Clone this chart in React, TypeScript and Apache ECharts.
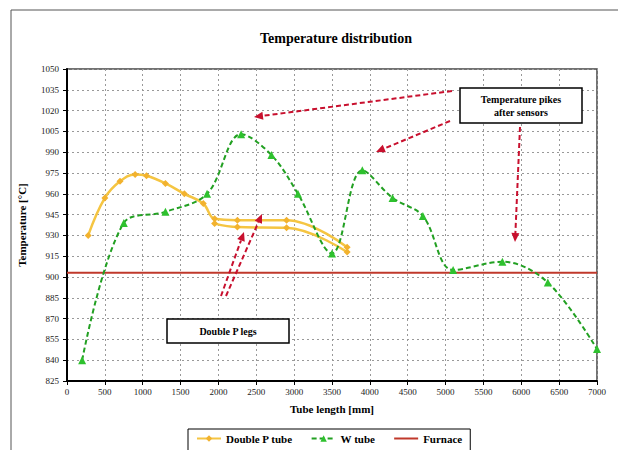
import React, { useEffect, useRef } from "react";
import * as echarts from "echarts";

// ---- data ----
const dpX = [280, 500, 700, 900, 1050, 1300, 1550, 1800, 1950, 2250, 2900, 3700];
const dpY = [930, 957, 969, 974, 973, 967.5, 960, 953, 942, 941, 941, 921.5];
const dpLegX = [1950, 2250, 2900, 3700];
const dpLegY = [938.5, 936, 935.5, 918];
const wX = [200, 750, 1300, 1850, 2300, 2700, 3050, 3500, 3900, 4300, 4700, 5100, 5750, 6350, 7000];
const wY = [840, 939, 947, 960, 1003, 988, 960, 917, 977, 957, 944, 905, 911, 896, 848];
const furnaceX = [0, 7000];
const furnaceY = [903, 903];
const seriesNames = ["Double P tube", "W tube", "Furnace"];
const xTicks = { min: 0, max: 7000, step: 500 };
const yTicks = { min: 825, max: 1050, step: 15 };

const zip = (xs: number[], ys: number[]) => xs.map((x, i) => [x, ys[i]]);

const SERIF = "'Liberation Serif', 'DejaVu Serif', serif";
const ARROW = "#C8102E";

function arrow(x1: number, y1: number, x2: number, y2: number) {
  const ang = Math.atan2(y2 - y1, x2 - x1);
  const L = 9, W = 4;
  const bx = x2 - L * Math.cos(ang), by = y2 - L * Math.sin(ang);
  const px = -Math.sin(ang) * W, py = Math.cos(ang) * W;
  return [
    {
      type: "line",
      shape: { x1, y1, x2: bx, y2: by },
      style: { stroke: ARROW, lineWidth: 2, lineDash: [5, 3] },
      z: 50,
    },
    {
      type: "polygon",
      shape: { points: [[x2, y2], [bx + px, by + py], [bx - px, by - py]] },
      style: { fill: ARROW },
      z: 50,
    },
  ];
}

export default function App() {
  const ref = useRef<HTMLDivElement>(null);
  useEffect(() => {
    document.body.style.margin = "0";
    const chart = echarts.init(ref.current!, null, { renderer: "svg" });
    chart.setOption({
      animation: false,
      backgroundColor: "#fff",
      title: {
        text: "Temperature distribution",
        left: 331,
        textAlign: "center",
        top: 26,
        textStyle: { fontFamily: SERIF, fontSize: 14, fontWeight: "bold", color: "#000" },
      },
      grid: {
        left: 67,
        right: 21,
        top: 69,
        bottom: 69,
        show: true,
        borderColor: "#444",
        borderWidth: 1.5,
        backgroundColor: "#fff",
      },
      legend: {
        data: [
          { name: seriesNames[0] },
          { name: seriesNames[1] },
          { name: seriesNames[2], itemStyle: { opacity: 0 } },
        ],
        left: 188,
        top: 429,
        itemWidth: 24,
        itemHeight: 8,
        itemGap: 18,
        borderColor: "#000",
        borderWidth: 1,
        padding: [4, 8, 14, 8],
        textStyle: { fontFamily: SERIF, fontSize: 11, fontWeight: "bold", color: "#000" },
      },
      xAxis: {
        type: "value",
        min: xTicks.min,
        max: xTicks.max,
        interval: xTicks.step,
        name: "Tube length [mm]",
        nameLocation: "middle",
        nameGap: 22,
        nameTextStyle: { fontFamily: SERIF, fontSize: 11, fontWeight: "bold", color: "#000" },
        axisLine: { lineStyle: { color: "#000", width: 2 } },
        axisTick: { show: true, length: 4, lineStyle: { color: "#000" } },
        axisLabel: { fontFamily: SERIF, fontSize: 9, color: "#222", margin: 6, formatter: (v: number) => String(v) },
        splitLine: { show: true, lineStyle: { color: "#999", type: [2, 3], width: 1 } },
      },
      yAxis: {
        type: "value",
        min: yTicks.min,
        max: yTicks.max,
        interval: yTicks.step,
        name: "Temperature [°C]",
        nameLocation: "middle",
        nameGap: 40,
        nameTextStyle: { fontFamily: SERIF, fontSize: 11, fontWeight: "bold", color: "#000" },
        axisLine: { show: true, lineStyle: { color: "#000", width: 2 } },
        axisTick: { show: true, length: 4, lineStyle: { color: "#000" } },
        axisLabel: { fontFamily: SERIF, fontSize: 9, color: "#222", margin: 8, formatter: (v: number) => String(v) },
        splitLine: { show: true, lineStyle: { color: "#999", type: [2, 3], width: 1 } },
      },
      series: [
        {
          name: seriesNames[0],
          type: "line",
          data: zip(dpX, dpY),
          smooth: 0.4,
          symbol: "diamond",
          symbolSize: 7,
          itemStyle: { color: "#F2B22E" },
          lineStyle: { color: "#F5C542", width: 2.5 },
          z: 3,
        },
        {
          name: seriesNames[0],
          type: "line",
          data: zip(dpLegX, dpLegY),
          smooth: 0.4,
          symbol: "diamond",
          symbolSize: 7,
          itemStyle: { color: "#F2B22E" },
          lineStyle: { color: "#F5C542", width: 2.5 },
          z: 3,
        },
        {
          name: seriesNames[1],
          type: "line",
          data: zip(wX, wY),
          smooth: 0.35,
          symbol: "triangle",
          symbolSize: 8,
          itemStyle: { color: "#2EC12E" },
          lineStyle: { color: "#22A022", width: 2, type: [5, 3] },
          z: 4,
        },
        {
          name: seriesNames[2],
          type: "line",
          data: zip(furnaceX, furnaceY),
          symbol: "none",
          itemStyle: { color: "#C0392B" },
          lineStyle: { color: "#C0392B", width: 2 },
          z: 2,
        },
      ],
      graphic: [
        {
          type: "rect",
          shape: { x: 11, y: 10, width: 640, height: 500 },
          style: { fill: "none", stroke: "#555", lineWidth: 1 },
          silent: true,
          z: -1,
        },
        ...arrow(452, 91, 254, 117),
        ...arrow(450, 121, 376, 152),
        ...arrow(520, 127, 515, 242),
        ...arrow(221, 296, 244, 232),
        ...arrow(226, 296, 262, 214),
        {
          type: "rect",
          shape: { x: 460, y: 88, width: 122, height: 35 },
          style: { fill: "#fff", stroke: "#000", lineWidth: 1.5 },
          z: 60,
        },
        {
          type: "text",
          x: 521,
          y: 105.5,
          style: {
            text: "Temperature pikes\nafter sensors",
            align: "center",
            verticalAlign: "middle",
            font: `bold 10px ${SERIF}`,
            lineHeight: 13,
            fill: "#000",
          },
          z: 61,
        },
        {
          type: "rect",
          shape: { x: 167, y: 319, width: 122, height: 24 },
          style: { fill: "#fff", stroke: "#000", lineWidth: 1.5 },
          z: 60,
        },
        {
          type: "text",
          x: 228,
          y: 331,
          style: {
            text: "Double P legs",
            align: "center",
            verticalAlign: "middle",
            font: `bold 10px ${SERIF}`,
            fill: "#000",
          },
          z: 61,
        },
      ],
    });
    return () => chart.dispose();
  }, []);
  return <div ref={ref} style={{ width: 618, height: 450 }} />;
}
